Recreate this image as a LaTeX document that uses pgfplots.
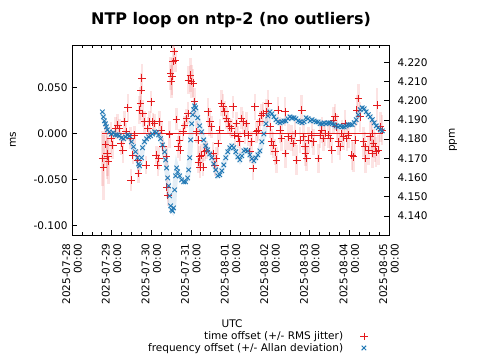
\documentclass[border=0pt]{standalone}
\usepackage{fontspec}
\setmainfont{DejaVu Sans}
\usepackage{pgfplots}
\pgfplotsset{compat=1.18}
\usepackage{pgfplotstable}
\definecolor{tred}{RGB}{228,26,28}
\definecolor{fblue}{RGB}{31,119,180}
\pgfplotstableread{
d ms e
0.775 -0.0272 0.030
0.800 -0.0370 0.035
0.843 -0.0120 0.025
0.886 -0.0217 0.028
0.901 -0.0247 0.022
0.919 -0.0298 0.025
0.987 -0.0054 0.018
1.028 -0.0127 0.015
1.096 0.0054 0.012
1.154 0.0090 0.012
1.197 0.0054 0.010
1.241 -0.0109 0.012
1.281 -0.0182 0.014
1.324 0.0126 0.012
1.367 0.0017 0.010
1.408 0.0278 0.015
1.476 -0.0054 0.012
1.494 -0.0508 0.012
1.534 -0.0236 0.010
1.577 -0.0018 0.010
1.661 -0.0290 0.012
1.678 -0.0435 0.010
1.704 0.0253 0.015
1.729 0.0326 0.018
1.747 0.0471 0.018
1.762 0.0598 0.015
1.787 0.0217 0.015
1.830 0.0126 0.012
1.873 -0.0345 0.010
1.914 0.0054 0.012
1.957 0.0126 0.012
2.000 0.0343 0.012
2.041 0.0126 0.010
2.084 0.0109 0.010
2.127 -0.0236 0.010
2.167 -0.0345 0.012
2.192 -0.0272 0.012
2.210 0.0126 0.012
2.253 0.0036 0.010
2.294 -0.0146 0.010
2.380 -0.0254 0.012
2.395 -0.0580 0.012
2.420 -0.0671 0.012
2.463 -0.0011 0.015
2.489 0.0652 0.018
2.506 0.0561 0.018
2.522 0.0615 0.020
2.547 0.0778 0.020
2.572 0.0887 0.015
2.608 0.0789 0.012
2.633 0.0152 0.012
2.673 -0.0146 0.012
2.716 -0.0073 0.012
2.729 -0.0182 0.012
2.800 0.0017 0.010
2.843 0.0090 0.010
2.886 0.0163 0.010
2.927 0.0217 0.012
2.939 0.0579 0.015
2.987 0.0634 0.018
3.013 0.0561 0.018
3.053 0.0544 0.015
3.096 0.0343 0.015
3.139 0.0017 0.012
3.180 -0.0073 0.012
3.192 -0.0309 0.012
3.223 -0.0254 0.012
3.235 -0.0363 0.012
3.266 -0.0236 0.012
3.306 -0.0363 0.010
3.349 -0.0200 0.010
3.392 -0.0182 0.010
3.433 0.0235 0.015
3.476 0.0126 0.015
3.519 0.0072 0.012
3.559 -0.0217 0.012
3.603 -0.0345 0.012
3.646 -0.0272 0.012
3.686 -0.0109 0.012
3.729 0.0036 0.012
3.772 0.0326 0.014
3.813 0.0289 0.014
3.856 0.0235 0.012
3.899 0.0163 0.012
3.939 0.0126 0.012
3.982 0.0072 0.010
4.025 0.0054 0.010
4.066 0.0289 0.012
4.109 -0.0018 0.012
4.152 0.0109 0.012
4.192 -0.0037 0.012
4.235 -0.0091 0.012
4.278 0.0163 0.012
4.319 0.0126 0.012
4.362 0.0000 0.012
4.405 0.0109 0.012
4.446 -0.0018 0.012
4.489 -0.0200 0.012
4.532 -0.0091 0.012
4.572 -0.0380 0.012
4.615 0.0289 0.014
4.658 0.0017 0.012
4.699 0.0036 0.012
4.742 0.0126 0.012
4.785 0.0199 0.012
4.825 0.0217 0.012
4.911 0.0235 0.014
4.952 0.0326 0.014
4.995 0.0072 0.012
5.038 -0.0091 0.014
5.078 -0.0127 0.014
5.122 -0.0200 0.014
5.165 -0.0290 0.014
5.205 0.0253 0.014
5.248 0.0036 0.014
5.291 -0.0054 0.014
5.375 0.0235 0.016
5.387 -0.0217 0.016
5.458 -0.0037 0.014
5.544 -0.0054 0.014
5.585 -0.0109 0.014
5.628 0.0000 0.014
5.671 -0.0290 0.016
5.754 -0.0073 0.014
5.797 0.0253 0.016
5.838 -0.0037 0.014
5.881 -0.0146 0.014
5.894 -0.0217 0.014
5.924 -0.0272 0.014
5.965 -0.0073 0.014
6.051 -0.0018 0.014
6.091 -0.0091 0.014
6.218 -0.0272 0.016
6.261 -0.0018 0.014
6.304 0.0036 0.014
6.344 -0.0054 0.014
6.387 0.0000 0.014
6.471 -0.0018 0.014
6.514 -0.0054 0.014
6.557 -0.0182 0.014
6.597 0.0145 0.014
6.641 0.0180 0.014
6.684 0.0072 0.014
6.724 -0.0091 0.014
6.767 -0.0146 0.014
6.810 0.0000 0.014
6.851 -0.0037 0.014
6.894 0.0109 0.014
6.937 -0.0054 0.014
6.977 -0.0018 0.014
7.063 -0.0236 0.016
7.104 -0.0254 0.016
7.147 -0.0073 0.016
7.190 0.0253 0.016
7.230 0.0380 0.016
7.273 0.0180 0.016
7.357 -0.0091 0.016
7.400 -0.0146 0.016
7.413 -0.0272 0.016
7.484 -0.0182 0.016
7.527 -0.0037 0.016
7.570 0.0000 0.016
7.582 -0.0217 0.016
7.610 -0.0109 0.016
7.653 -0.0146 0.016
7.671 -0.0200 0.016
7.696 0.0308 0.018
7.737 -0.0182 0.016
7.780 0.0072 0.016
7.823 0.0036 0.016
}\timeoff
\pgfplotstableread{
d ppm e
0.767 4.1942 0.0040
0.792 4.1916 0.0040
0.818 4.1895 0.0035
0.843 4.1880 0.0030
0.868 4.1864 0.0025
0.894 4.1848 0.0020
0.944 4.1838 0.0018
0.995 4.1827 0.0015
1.046 4.1833 0.0015
1.096 4.1822 0.0015
1.147 4.1822 0.0015
1.197 4.1817 0.0015
1.248 4.1807 0.0015
1.299 4.1802 0.0015
1.349 4.1812 0.0015
1.400 4.1822 0.0015
1.451 4.1817 0.0015
1.501 4.1786 0.0015
1.552 4.1760 0.0015
1.603 4.1734 0.0015
1.653 4.1703 0.0015
1.678 4.1671 0.0015
1.704 4.1661 0.0015
1.754 4.1703 0.0015
1.780 4.1755 0.0015
1.830 4.1786 0.0015
1.881 4.1802 0.0015
1.932 4.1812 0.0015
1.982 4.1817 0.0015
2.033 4.1827 0.0015
2.084 4.1838 0.0015
2.134 4.1833 0.0015
2.185 4.1822 0.0015
2.235 4.1802 0.0015
2.286 4.1770 0.0015
2.337 4.1734 0.0015
2.362 4.1692 0.0015
2.387 4.1650 0.0015
2.413 4.1598 0.0015
2.438 4.1557 0.0015
2.463 4.1505 0.0015
2.489 4.1453 0.0015
2.514 4.1432 0.0015
2.539 4.1426 0.0015
2.565 4.1442 0.0015
2.590 4.1536 0.0015
2.615 4.1609 0.0015
2.641 4.1650 0.0015
2.666 4.1630 0.0015
2.716 4.1609 0.0015
2.767 4.1588 0.0015
2.818 4.1578 0.0015
2.868 4.1578 0.0015
2.919 4.1598 0.0015
2.944 4.1640 0.0015
2.970 4.1703 0.0015
2.995 4.1796 0.0015
3.020 4.1880 0.0015
3.046 4.1927 0.0015
3.071 4.1953 0.0015
3.096 4.1973 0.0015
3.122 4.1963 0.0015
3.172 4.1911 0.0015
3.223 4.1869 0.0015
3.273 4.1838 0.0015
3.324 4.1796 0.0015
3.375 4.1765 0.0015
3.425 4.1744 0.0015
3.476 4.1723 0.0015
3.527 4.1703 0.0015
3.577 4.1671 0.0015
3.628 4.1640 0.0015
3.678 4.1609 0.0015
3.729 4.1614 0.0015
3.780 4.1635 0.0015
3.830 4.1666 0.0015
3.881 4.1703 0.0015
3.932 4.1734 0.0015
3.982 4.1755 0.0015
4.033 4.1765 0.0015
4.084 4.1755 0.0015
4.134 4.1734 0.0015
4.185 4.1708 0.0015
4.235 4.1692 0.0015
4.286 4.1713 0.0015
4.337 4.1739 0.0015
4.387 4.1744 0.0015
4.438 4.1739 0.0015
4.489 4.1718 0.0015
4.539 4.1697 0.0015
4.590 4.1687 0.0015
4.640 4.1703 0.0015
4.691 4.1718 0.0015
4.742 4.1739 0.0015
4.792 4.1786 0.0015
4.843 4.1827 0.0015
4.894 4.1880 0.0015
4.944 4.1921 0.0015
4.995 4.1942 0.0015
5.046 4.1932 0.0015
5.096 4.1916 0.0015
5.147 4.1901 0.0015
5.197 4.1890 0.0015
5.248 4.1885 0.0015
5.299 4.1890 0.0015
5.349 4.1895 0.0015
5.400 4.1895 0.0015
5.451 4.1906 0.0015
5.501 4.1916 0.0015
5.552 4.1911 0.0015
5.603 4.1911 0.0015
5.653 4.1906 0.0015
5.704 4.1895 0.0015
5.754 4.1890 0.0015
5.805 4.1885 0.0015
5.856 4.1890 0.0015
5.906 4.1911 0.0015
5.957 4.1906 0.0015
6.008 4.1895 0.0015
6.058 4.1901 0.0015
6.109 4.1895 0.0015
6.159 4.1890 0.0015
6.210 4.1890 0.0015
6.261 4.1880 0.0015
6.311 4.1880 0.0015
6.362 4.1885 0.0015
6.413 4.1880 0.0015
6.463 4.1885 0.0015
6.514 4.1885 0.0015
6.565 4.1880 0.0015
6.615 4.1875 0.0015
6.666 4.1869 0.0015
6.716 4.1864 0.0015
6.767 4.1869 0.0015
6.818 4.1864 0.0015
6.868 4.1864 0.0015
6.919 4.1869 0.0015
6.970 4.1875 0.0015
7.020 4.1875 0.0015
7.071 4.1875 0.0015
7.122 4.1885 0.0015
7.172 4.1901 0.0015
7.223 4.1927 0.0015
7.273 4.1953 0.0015
7.324 4.1963 0.0015
7.375 4.1958 0.0015
7.425 4.1942 0.0015
7.476 4.1927 0.0015
7.527 4.1916 0.0015
7.577 4.1901 0.0015
7.628 4.1885 0.0015
7.678 4.1869 0.0015
7.729 4.1859 0.0015
7.780 4.1848 0.0015
7.830 4.1843 0.0015
}\freqoff
\pgfplotsset{
  base/.style={
    at={(72pt,125pt)}, anchor=south west,
    scale only axis, width=317pt, height=190pt,
    xmin=0, xmax=8,
    tick align=inside,
    major tick length=5pt, minor tick length=3pt,
    every tick/.style={black, line width=0.6pt},
    axis line style={line width=0.8pt},
    font=\fontsize{10.5}{12.6}\selectfont,
  },
}
\begin{document}
\begin{tikzpicture}
\useasboundingbox (0pt,0pt) rectangle (480pt,360pt);
\node[font=\fontsize{16}{19}\selectfont\bfseries] at (231pt,340pt) {NTP loop on ntp-2 (no outliers)};
\begin{axis}[base,
  ymin=-0.1101, ymax=0.0958,
  ytick={-0.1,-0.05,0,0.05},
  yticklabels={-0.100,-0.050,0.000,0.050},
  ytick pos=left,
  yticklabel shift=1pt,
  xtick={0,1,2,3,4,5,6,7,8},
  minor xtick={0.25,0.5,0.75,1.25,1.5,1.75,2.25,2.5,2.75,3.25,3.5,3.75,4.25,4.5,4.75,5.25,5.5,5.75,6.25,6.5,6.75,7.25,7.5,7.75},
  xticklabels={{2025-07-28\\00:00},{2025-07-29\\00:00},{2025-07-30\\00:00},{2025-07-31\\00:00},{2025-08-01\\00:00},{2025-08-02\\00:00},{2025-08-03\\00:00},{2025-08-04\\00:00},{2025-08-05\\00:00}},
  xticklabel style={rotate=90, anchor=east, align=right, font=\fontsize{10.5}{11.5}\selectfont},
  xticklabel shift=5pt,
  xlabel={UTC},
  xlabel style={at={(0.505,-0.468)}, anchor=center},
  ylabel={ms},
  ylabel style={at={(-0.186,0.5)}, anchor=center},
  legend style={at={(0.943,-0.487)}, anchor=north east, draw=none, fill=none,
    legend cell align=right, column sep=15pt, row sep=-2pt, font=\fontsize{10.5}{12.6}\selectfont},
  legend plot pos=right,
]
\addplot[draw=none, mark=none, forget plot,
  error bars/.cd, y dir=both, y explicit,
  error bar style={draw=tred, draw opacity=0.12, line width=2.5pt},
  error mark=none] table[x=d, y=ms, y error=e] {\timeoff};
\addplot[tred, only marks, mark=+, mark size=3.8pt, line width=0.8pt] table[x=d, y=ms] {\timeoff};
\addlegendentry{time offset (+/- RMS jitter)}
\addlegendimage{fblue, only marks, mark=x, mark size=3.2pt, line width=0.9pt}
\addlegendentry{frequency offset (+/- Allan deviation)}
\addplot[tred, line width=0.7pt, forget plot] coordinates {(0.767,0) (7.830,0)};
\end{axis}
\begin{axis}[base,
  ymin=4.1301, ymax=4.2290,
  axis y line*=right, hide x axis,
  ytick={4.14,4.15,4.16,4.17,4.18,4.19,4.20,4.21,4.22},
  yticklabels={4.140,4.150,4.160,4.170,4.180,4.190,4.200,4.210,4.220},
  yticklabel shift=5pt,
  ylabel={ppm},
  ylabel style={at={(1.202,0.5)}, anchor=center},
]
\addplot[fblue, draw opacity=0.12, line width=5pt, forget plot] table[x=d, y=ppm] {\freqoff};
\addplot[fblue, only marks, mark=x, mark size=3.2pt, line width=0.9pt] table[x=d, y=ppm] {\freqoff};
\end{axis}
\end{tikzpicture}
\end{document}
